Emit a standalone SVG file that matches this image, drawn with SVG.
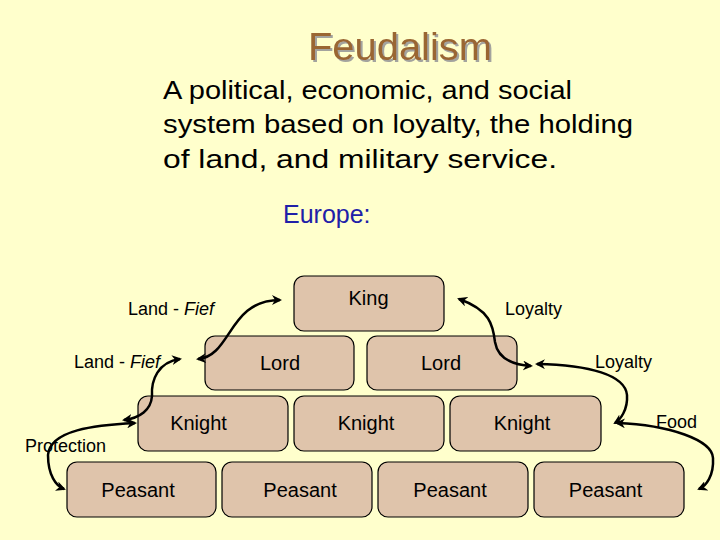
<svg xmlns="http://www.w3.org/2000/svg" width="720" height="540" viewBox="0 0 720 540">
<style>
.box{fill:#DFC4AB;stroke:#000;stroke-width:1.2}
.bl{font-family:"Liberation Sans",Arial,sans-serif;font-size:20px;fill:#000;text-anchor:middle}
.lb{font-family:"Liberation Sans",Arial,sans-serif;font-size:18px;fill:#000}
.para{font-family:"Liberation Sans",Arial,sans-serif;font-size:26px;fill:#000}
.conn{fill:none;stroke:#000;stroke-width:2.5}
</style>
<defs>
<marker id="ah" viewBox="0 0 10 10" refX="8" refY="5" markerWidth="4" markerHeight="4" orient="auto-start-reverse" markerUnits="strokeWidth">
<path d="M0,0 L10,5 L0,10 L3,5 Z" fill="#000"/>
</marker>
<filter id="sh" x="-10%" y="-20%" width="130%" height="150%">
<feDropShadow dx="2" dy="2" stdDeviation="0.6" flood-color="#999999" flood-opacity="0.9"/>
</filter>
</defs>
<rect width="720" height="540" fill="#FFFFCC"/>
<g id="title">
<text x="308" y="60" font-family="'Liberation Sans',Arial,sans-serif" font-size="38" fill="#9A6633" textLength="184" lengthAdjust="spacingAndGlyphs" filter="url(#sh)">Feudalism</text>
</g>
<g id="definition">
<text class="para" x="163" y="99" textLength="409" lengthAdjust="spacingAndGlyphs">A political, economic, and social</text>
<text class="para" x="163" y="133" textLength="470" lengthAdjust="spacingAndGlyphs">system based on loyalty, the holding</text>
<text class="para" x="163" y="168" textLength="394" lengthAdjust="spacingAndGlyphs">of land, and military service.</text>
</g>
<text id="europe" x="283" y="223" font-family="'Liberation Sans',Arial,sans-serif" font-size="25" fill="#2020A8">Europe:</text>
<g id="king"><rect class="box" x="294" y="276" width="150" height="55" rx="10"/><text class="bl" x="368.5" y="305">King</text></g>
<g id="lord1"><rect class="box" x="205" y="336" width="149" height="54" rx="10"/><text class="bl" x="280" y="370">Lord</text></g>
<g id="lord2"><rect class="box" x="367" y="336" width="150" height="54" rx="10"/><text class="bl" x="441" y="370">Lord</text></g>
<g id="knight1"><rect class="box" x="138" y="396" width="150" height="55" rx="10"/><text class="bl" x="198.5" y="430">Knight</text></g>
<g id="knight2"><rect class="box" x="294" y="396" width="150" height="55" rx="10"/><text class="bl" x="366" y="430">Knight</text></g>
<g id="knight3"><rect class="box" x="450" y="396" width="151" height="55" rx="10"/><text class="bl" x="522" y="430">Knight</text></g>
<g id="peasant1"><rect class="box" x="67" y="462" width="149" height="55" rx="10"/><text class="bl" x="138" y="497">Peasant</text></g>
<g id="peasant2"><rect class="box" x="222" y="462" width="150" height="55" rx="10"/><text class="bl" x="300" y="497">Peasant</text></g>
<g id="peasant3"><rect class="box" x="378" y="462" width="150" height="55" rx="10"/><text class="bl" x="450" y="497">Peasant</text></g>
<g id="peasant4"><rect class="box" x="534" y="462" width="150" height="55" rx="10"/><text class="bl" x="605.5" y="497">Peasant</text></g>
<g id="connectors">
<path class="conn" d="M198,359 C232,356 228,300 280,300" marker-start="url(#ah)" marker-end="url(#ah)"/>
<path class="conn" d="M180,359 C158,362 151,380 152,396 C151,410 140,418 124,420" marker-start="url(#ah)" marker-end="url(#ah)"/>
<path class="conn" d="M135,423 C95,425 50,430 48,455 C48,475 56,486 64,489" marker-start="url(#ah)" marker-end="url(#ah)"/>
<path class="conn" d="M459,299 C490,310 493,325 495,342 C498,360 515,365 531,366" marker-start="url(#ah)" marker-end="url(#ah)"/>
<path class="conn" d="M537,364 C590,365 625,375 627,395 C628,410 620,420 615,423" marker-start="url(#ah)" marker-end="url(#ah)"/>
<path class="conn" d="M617,423 C670,425 712,440 713,458 C714,476 706,486 699,489" marker-start="url(#ah)" marker-end="url(#ah)"/>
</g>
<g id="labels">
<text class="lb" x="128" y="315">Land - <tspan font-style="italic">Fief</tspan></text>
<text class="lb" x="74" y="368">Land - <tspan font-style="italic">Fief</tspan></text>
<text class="lb" x="505" y="315">Loyalty</text>
<text class="lb" x="595" y="368">Loyalty</text>
<text class="lb" x="656" y="428">Food</text>
<text class="lb" x="25" y="452">Protection</text>
</g>
</svg>
